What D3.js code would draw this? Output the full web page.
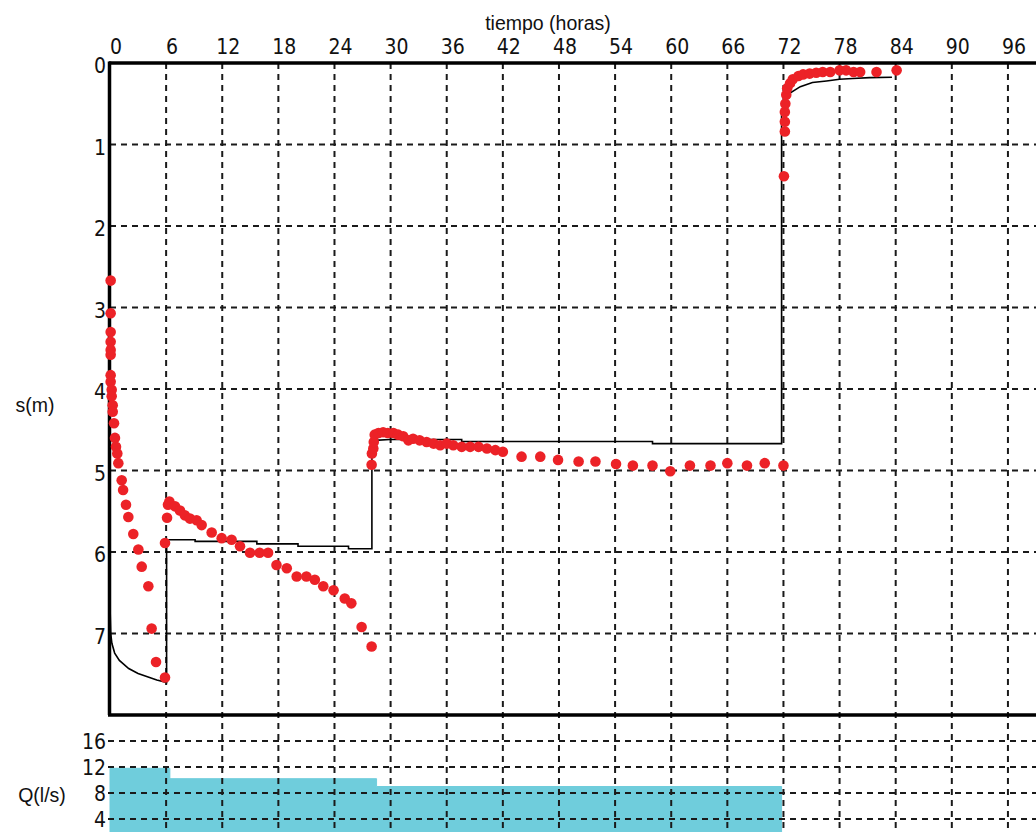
<!DOCTYPE html>
<html>
<head>
<meta charset="utf-8">
<script src="https://cdn.jsdelivr.net/npm/d3@7"></script>
<style>
  html, body { margin: 0; padding: 0; background: #fff; }
  svg { display: block; }
  .num { font-family: "Liberation Sans Narrow", "Arial Narrow", "DejaVu Sans Condensed", sans-serif; font-size: 21px; fill: #111; }
  .lbl { font-family: "Liberation Sans", Arial, sans-serif; font-size: 19.5px; fill: #111; }
</style>
</head>
<body>
<script>
// ---------- data ----------
const timeTicks = [0, 6, 12, 18, 24, 30, 36, 42, 48, 54, 60, 66, 72, 78, 84, 90, 96];
const sTicks = [0, 1, 2, 3, 4, 5, 6, 7];
const qTicks = [4, 8, 12, 16];

// observed drawdown (red dots): time in hours, s in metres
const obsT = [0.07, 0.07, 0.07, 0.07, 0.07, 0.07, 0.07, 0.07, 0.18, 0.18, 0.29, 0.29, 0.43, 0.53, 0.64, 0.78, 0.89,
  1.25, 1.40, 1.71, 1.96, 2.49, 3.03, 3.39, 4.10, 4.45, 4.92, 5.88,
  5.88, 6.10, 6.20, 6.35, 6.95, 7.48, 8.0, 8.55, 9.26, 9.8, 10.87, 11.94, 13.0, 13.9, 14.97, 16.0, 16.9, 17.8, 18.9, 19.96, 21.0, 21.9, 22.8, 23.9, 25.1, 25.8, 26.9, 27.97,
  27.97, 28.0, 28.15, 28.2, 28.3, 28.7, 29.2, 29.7, 30.3, 30.8, 31.35, 31.9, 32.4, 33.1, 33.85, 34.6, 35.3, 36.0, 36.7, 37.6, 38.5, 39.4, 40.3, 41.2, 42.0,
  44.0, 46.0, 47.9, 50.1, 51.9, 54.1, 55.9, 58.0, 59.9, 62.0, 64.2, 66.0, 68.1, 70.0, 72.0,
  72.05, 72.15, 72.15, 72.15, 72.2, 72.3, 72.4, 72.7, 73.0, 73.6, 74.1, 74.8, 75.5, 76.2, 77.0, 78.0, 78.7, 79.5, 80.2, 81.95, 84.1];
const obsS = [2.67, 3.07, 3.30, 3.42, 3.52, 3.58, 3.83, 3.91, 4.01, 4.09, 4.20, 4.28, 4.42, 4.60, 4.71, 4.79, 4.91,
  5.12, 5.24, 5.42, 5.57, 5.78, 5.97, 6.18, 6.42, 6.94, 7.35, 7.54,
  5.89, 5.58, 5.42, 5.38, 5.44, 5.49, 5.55, 5.59, 5.61, 5.67, 5.76, 5.83, 5.85, 5.93, 6.01, 6.01, 6.01, 6.16, 6.20, 6.30, 6.30, 6.34, 6.42, 6.47, 6.57, 6.63, 6.92, 7.16,
  4.93, 4.79, 4.73, 4.65, 4.56, 4.54, 4.53, 4.54, 4.54, 4.56, 4.58, 4.63, 4.61, 4.63, 4.65, 4.67, 4.69, 4.67, 4.69, 4.71, 4.71, 4.71, 4.73, 4.75, 4.77,
  4.83, 4.83, 4.87, 4.89, 4.89, 4.92, 4.94, 4.94, 5.01, 4.94, 4.94, 4.91, 4.94, 4.91, 4.94,
  1.39, 0.84, 0.72, 0.60, 0.50, 0.39, 0.31, 0.25, 0.20, 0.16, 0.14, 0.13, 0.12, 0.11, 0.11, 0.09, 0.09, 0.11, 0.11, 0.11, 0.09];

// simulated drawdown (black line)
const modelT = [0.02, 0.08, 0.2, 0.5, 1.0, 2.0, 3.0, 4.0, 5.0, 6.05,
  6.05, 9.1, 9.1, 15.7, 15.7, 20.1, 20.1, 25.5, 25.5, 28.0,
  28.0, 28.3, 29.9, 37.6, 37.6, 58.0, 58.0, 71.8,
  71.8, 72.0, 72.2, 72.7, 73.8, 75.1, 76.6, 78.0, 79.4, 81.2, 83.6];
const modelS = [6.75, 7.0, 7.12, 7.24, 7.33, 7.43, 7.49, 7.53, 7.57, 7.60,
  5.85, 5.85, 5.87, 5.87, 5.90, 5.90, 5.93, 5.93, 5.96, 5.96,
  4.66, 4.63, 4.62, 4.62, 4.645, 4.645, 4.67, 4.67,
  0.60, 0.52, 0.46, 0.37, 0.29, 0.24, 0.22, 0.20, 0.19, 0.18, 0.175];

// pumping rate steps (cyan area)
const qStart = [0, 6.4, 28.5];
const qEnd = [6.4, 28.5, 71.8];
const qValue = [11.8, 10.2, 9.0];

// ---------- layout ----------
const W = 1036, H = 832;
const svg = d3.select("body").append("svg").attr("width", W).attr("height", H);
svg.append("rect").attr("width", W).attr("height", H).attr("fill", "#fff");

const x = d3.scaleLinear().domain([0, 99]).range([110, 1036]);
const y = d3.scaleLinear().domain([0, 8]).range([63, 715]);
const yq = d3.scaleLinear().domain([0, 20]).range([845, 715]);

const gridColor = "#1a1a1a";
const dash = "6,5";

// ---------- Q panel fill ----------
const qSteps = [];
qValue.forEach((v, i) => { qSteps.push([qStart[i], v]); qSteps.push([qEnd[i], v]); });
const qArea = d3.area().x(d => x(d[0])).y0(yq(0)).y1(d => yq(d[1]));
svg.append("path").datum(qSteps).attr("d", qArea).attr("fill", "#6fcddc")
  .attr("stroke", "#6fcddc").attr("stroke-width", 1);

// ---------- grids ----------
const vt = timeTicks.filter(t => t > 0);
svg.append("g").selectAll("line").data(vt).join("line")
  .attr("x1", d => x(d)).attr("x2", d => x(d))
  .attr("y1", y(0)).attr("y2", H)
  .attr("stroke", gridColor).attr("stroke-width", 2).attr("stroke-dasharray", dash);
svg.append("g").selectAll("line").data(sTicks.filter(s => s > 0)).join("line")
  .attr("x1", 110).attr("x2", W)
  .attr("y1", d => y(d)).attr("y2", d => y(d))
  .attr("stroke", gridColor).attr("stroke-width", 2).attr("stroke-dasharray", dash);
svg.append("g").selectAll("line").data(qTicks).join("line")
  .attr("x1", 108).attr("x2", W)
  .attr("y1", d => yq(d)).attr("y2", d => yq(d))
  .attr("stroke", gridColor).attr("stroke-width", 2).attr("stroke-dasharray", dash);

// ---------- frame ----------
svg.append("line").attr("x1", 109).attr("x2", W).attr("y1", y(0)).attr("y2", y(0))
  .attr("stroke", "#000").attr("stroke-width", 3.5);
svg.append("line").attr("x1", 109.5).attr("x2", 109.5).attr("y1", y(0) - 1.5).attr("y2", y(8))
  .attr("stroke", "#000").attr("stroke-width", 3.5);
svg.append("line").attr("x1", 108).attr("x2", W).attr("y1", y(8)).attr("y2", y(8))
  .attr("stroke", "#000").attr("stroke-width", 3.5);

// ---------- model line ----------
const modelPts = modelT.map((t, i) => [t, modelS[i]]);
svg.append("path").datum(modelPts)
  .attr("d", d3.line().x(d => x(d[0])).y(d => y(d[1])))
  .attr("fill", "none").attr("stroke", "#000").attr("stroke-width", 1.6);

// ---------- observed dots ----------
const obsPts = obsT.map((t, i) => [t, obsS[i]]);
svg.append("g").selectAll("circle").data(obsPts).join("circle")
  .attr("cx", d => x(d[0])).attr("cy", d => y(d[1])).attr("r", 5.3)
  .attr("fill", "#ec2227");

// ---------- tick labels ----------
svg.append("g").selectAll("text").data(timeTicks).join("text")
  .attr("class", "num").attr("x", d => x(d) + 6).attr("y", 54)
  .attr("text-anchor", "middle").text(d => d);
svg.append("g").selectAll("text").data(sTicks).join("text")
  .attr("class", "num").attr("x", 106).attr("y", d => y(d) + 10)
  .attr("text-anchor", "end").text(d => d);
svg.append("g").selectAll("text").data(qTicks).join("text")
  .attr("class", "num").attr("x", 106).attr("y", d => yq(d) + 8)
  .attr("text-anchor", "end").text(d => d);

// ---------- axis titles ----------
svg.append("text").attr("class", "lbl").attr("x", 548).attr("y", 30)
  .attr("text-anchor", "middle").text("tiempo (horas)");
svg.append("text").attr("class", "lbl").attr("x", 35).attr("y", 412)
  .attr("text-anchor", "middle").text("s(m)");
svg.append("text").attr("class", "lbl").attr("x", 42).attr("y", 802)
  .attr("text-anchor", "middle").text("Q(l/s)");
</script>
</body>
</html>
